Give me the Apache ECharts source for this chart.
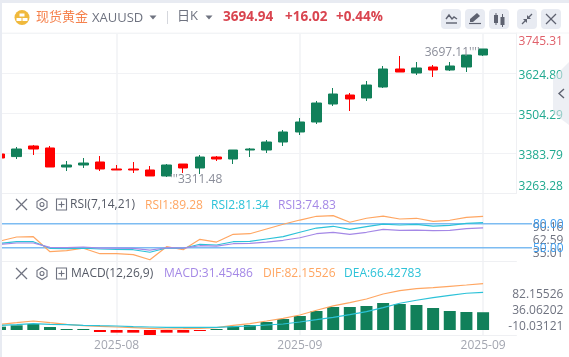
<!DOCTYPE html>
<html>
<head>
<meta charset="utf-8">
<script src="https://cdn.jsdelivr.net/npm/echarts@6/dist/echarts.min.js"></script>
<style>
  html, body { margin: 0; padding: 0; background: #fff; }
  #container { width: 569px; height: 357px; }
</style>
</head>
<body>
<div id="container"></div>
<script>
var dates = ['2025-08-06','2025-08-07','2025-08-08','2025-08-11','2025-08-12','2025-08-13','2025-08-14','2025-08-15',
  '2025-08-18','2025-08-19','2025-08-20','2025-08-21','2025-08-22','2025-08-25','2025-08-26','2025-08-27','2025-08-28','2025-08-29',
  '2025-09-01','2025-09-02','2025-09-03','2025-09-04','2025-09-05','2025-09-08','2025-09-09','2025-09-10','2025-09-11','2025-09-12','2025-09-15','2025-09-16'];
var labelIndex = [7, 18, 29];

// open, close, low, high
var candles = [
  [3380.8,3368.7,3365.7,3383.8],[3373.0,3395.8,3365.7,3401.9],[3404.9,3395.8,3377.8,3407.9],[3398.9,3341.6,3341.6,3404.9],
  [3341.6,3347.6,3329.5,3359.7],[3347.6,3353.6,3338.6,3368.7],[3356.7,3335.6,3329.5,3374.7],[3335.6,3332.6,3332.6,3347.6],
  [3335.6,3332.6,3323.5,3356.7],[3332.6,3314.5,3314.5,3344.6],[3314.5,3347.6,3311.48,3350.6],[3350.6,3338.6,3323.5,3350.6],
  [3338.6,3371.7,3320.5,3377.8],[3371.7,3365.7,3359.7,3374.7],[3365.7,3392.8,3350.6,3392.8],[3392.8,3395.8,3371.7,3398.9],
  [3392.8,3416.9,3383.8,3422.9],[3416.9,3447.1,3404.9,3453.1],[3447.1,3477.2,3438.0,3489.2],[3477.2,3534.4,3471.2,3540.5],
  [3531.4,3561.5,3525.4,3579.6],[3558.5,3546.5,3510.3,3564.5],[3549.5,3588.6,3540.5,3600.7],[3582.6,3636.9,3579.6,3645.9],
  [3636.9,3627.8,3627.8,3676.0],[3624.8,3639.9,3618.8,3657.9],[3642.9,3633.8,3612.7,3648.9],[3633.8,3645.9,3630.8,3657.9],
  [3642.9,3679.0,3627.8,3679.0],[3679.0,3697.11,3676.0,3697.11]
];
var priceTicks = [3263.28, 3383.79, 3504.29, 3624.80, 3745.31];

var rsi1 = [58.4,63.4,63.8,45,46.3,49.3,42.5,42.5,41.3,35.01,51.3,47.5,60.5,57.1,66.8,67.5,73.4,79.3,84.6,89.3,90.16,81.8,86.8,89.6,85.9,86.8,83,84.3,88,89.28];
var rsi2 = [55.5,57.5,57.5,49.3,48.8,49.6,48.4,48,47.5,44.3,49.6,49.3,54.3,53.4,57.5,58,60.9,63.8,69.3,74.6,76.8,73,76.3,79.6,78.4,79.3,77.1,78,80.5,81.34];
var rsi3 = [54.3,55.9,55.9,50.5,50,50.9,49.6,49.6,49.3,47.1,50,49.6,52.5,52.1,55,55.5,57.1,59.3,62.5,67.5,69.3,66.8,69.3,73,71.8,72.1,71.3,71.8,73.8,74.83];
var rsiTicks = [35.01, 62.59, 90.16];
var rsiGuides = [80, 50];

var dif = [10.1,12.9,15.9,12.9,10.1,7.6,6.5,5.3,4.1,3,1.8,2.3,3,4.1,8.3,11.2,15.9,20.7,26.5,34.9,42.8,48.3,54.9,63.7,69.6,73.1,74.9,77.3,79.6,82.155];
var dea = [8.3,9.4,11.2,10.1,9.4,8.3,7.6,7.1,5.8,5.3,4.8,4.8,4.8,4.8,5.8,7.1,8.8,10.6,14.2,18.2,22.5,27.1,32.4,39.5,47.3,52.6,57.2,61.4,65,66.43];
var macd = [5.9,8.3,10.6,5.3,1,1,-3.5,-4.7,-4.7,-10.03,-4.7,-4.7,-1,1,7.1,8.8,14.2,19.5,24.8,33.6,40.7,40.7,42.5,47.8,46,44.2,38.9,33.6,31.9,31.45];
var macdTicks = [-10.03121, 36.06202, 82.15526];

var green = '#11805a', red = '#ff0000';
var orange = '#ffa662', cyan = '#2cc2d8', purple = '#a488e6';
var lineGray = '#f1f2f5', labelGray = '#6f7380';
var fontName = '"Open Sans","Noto Sans CJK SC",sans-serif';

function showLabel(index) {
  return labelIndex.indexOf(index) >= 0;
}

function catAxis(gridIndex, withLabel) {
  return {
    type: 'category', gridIndex: gridIndex, boundaryGap: false,
    data: dates.concat(['', '']),
    axisLine: { show: true, onZero: false, lineStyle: { color: '#eff0f3' } },
    axisTick: { show: false },
    splitLine: { show: true, interval: showLabel, lineStyle: { color: lineGray, width: 1.5 } },
    axisLabel: {
      show: withLabel, interval: showLabel, margin: 5, color: '#a3a6b0', fontSize: 12, fontFamily: fontName,
      formatter: function (v) { return v.slice(0, 7); }
    }
  };
}

function labelAxis(gridIndex, min, max, ticks, digits) {
  return {
    type: 'value', gridIndex: gridIndex, position: 'right', min: min, max: max, scale: true,
    axisLine: { show: false }, axisTick: { show: false, customValues: ticks }, splitLine: { show: false },
    axisLabel: {
      customValues: ticks, margin: 47, align: 'right', color: labelGray, fontSize: 12, fontFamily: fontName,
      padding: [5, 0, 0, 0],
      formatter: function (v) { return v.toFixed(digits); }
    }
  };
}

function hiddenAxis(gridIndex, min, max) {
  return { type: 'value', gridIndex: gridIndex, min: min, max: max, show: false, splitLine: { show: false } };
}

function lineSeries(name, data, color, xi, yi) {
  return {
    name: name, type: 'line', data: data, xAxisIndex: xi, yAxisIndex: yi, symbol: 'none', z: 4,
    lineStyle: { color: color, width: 1.2 }
  };
}

function guideSeries(v) {
  return {
    type: 'line', xAxisIndex: 3, yAxisIndex: 5, symbol: 'none', z: 3, data: [[0, v], [1, v]],
    lineStyle: { color: '#7dbcf2', width: 1.6 },
    endLabel: { show: true, distance: 1, offset: [0, 1], color: '#3f9ef0', fontSize: 12, fontFamily: fontName, padding: [3, 0, 0, 0], formatter: v.toFixed(2) }
  };
}

// header and panel furniture
function txt(s, x, y, fill, size, weight) {
  return { type: 'text', z: 20, style: { text: s, x: x, y: y, fill: fill, textVerticalAlign: 'middle',
    font: (weight || 'normal') + ' ' + size + 'px ' + fontName } };
}
function seg(pts, color, w) {
  return { type: 'polyline', z: 20, shape: { points: pts }, style: { stroke: color, lineWidth: w || 1.2, fill: null } };
}
function box(x, y, w, h, fill, r) {
  return { type: 'rect', z: 19, shape: { x: x, y: y, width: w, height: h, r: r || 0 }, style: { fill: fill } };
}
function tri(x, y) {
  return { type: 'polygon', z: 20, shape: { points: [[x - 3.5, y - 2], [x + 3.5, y - 2], [x, y + 2]] }, style: { fill: '#6f7380' } };
}
function panelIcons(y) {
  var c = '#6f7380';
  return [
    seg([[16, y - 5.5], [27, y + 5.5]], c), seg([[27, y - 5.5], [16, y + 5.5]], c),
    { type: 'polygon', z: 20, shape: { points: [[42, y - 6], [47, y - 3], [47, y + 3], [42, y + 6], [37, y + 3], [37, y - 3]] }, style: { stroke: c, fill: null, lineWidth: 1.1 } },
    { type: 'circle', z: 20, shape: { cx: 42, cy: y, r: 2 }, style: { stroke: c, fill: null, lineWidth: 1.1 } },
    { type: 'rect', z: 20, shape: { x: 56.5, y: y - 5.5, width: 10, height: 11 }, style: { stroke: c, fill: null, lineWidth: 1.1 } },
    seg([[58.5, y], [64.5, y]], c, 1.1), seg([[61.5, y - 3], [61.5, y + 3]], c, 1.1)
  ];
}

var dark = '#5e6270';
var furniture = [
  box(0, 0, 569, 3, '#e8ebf2'), box(0, 0, 2, 357, '#e8ebf2'),
  { type: 'line', z: 18, shape: { x1: 2, y1: 33, x2: 569, y2: 33 }, style: { stroke: '#f4f5f7', lineWidth: 1 } },
  { type: 'circle', z: 19, shape: { cx: 22, cy: 17.5, r: 7.5 }, style: { fill: '#f0b93c' } },
  box(19.5, 13.5, 5, 3, '#fff'), box(16.5, 18, 5, 3, '#fff'), box(22.5, 18, 5, 3, '#fff'),
  txt('现货黄金', 36, 17, '#f5814c', 13),
  txt('XAUUSD', 92, 18.5, labelGray, 13),
  tri(153, 17.5),
  { type: 'line', z: 18, shape: { x1: 167.5, y1: 11, x2: 167.5, y2: 24 }, style: { stroke: '#d5d7dd', lineWidth: 1 } },
  txt('日K', 177, 16.5, labelGray, 13),
  tri(209, 17.5),
  txt('3694.94', 223, 17.5, '#d9444f', 13.5, 'bold'),
  txt('+16.02', 285, 17.5, '#d9444f', 13.5, 'bold'),
  txt('+0.44%', 336, 17.5, '#d9444f', 13.5, 'bold'),
  box(441, 9, 20, 20, '#e8ebf2', 4), box(465, 9, 20, 20, '#e8ebf2', 4), box(489, 9, 20, 20, '#e8ebf2', 4),
  box(517, 9, 20, 20, '#e8ebf2', 4), box(541, 9, 20, 20, '#e8ebf2', 4),
  seg([[446, 19], [449, 15], [452, 19], [454, 17], [457, 19]], dark, 1.4), seg([[446, 23], [457, 23]], dark, 1.4),
  seg([[469, 23.5], [481, 23.5]], dark, 1.2),
  { type: 'polygon', z: 20, shape: { points: [[470, 22], [470, 19], [477, 13], [480, 16], [473, 22]] }, style: { fill: dark } },
  box(494, 15, 4, 8, dark), seg([[496, 13], [496, 25]], dark, 1), box(500.5, 17, 4, 8, dark), seg([[502.5, 14], [502.5, 27]], dark, 1),
  seg([[522, 24], [526, 20]], dark, 1.3), seg([[528, 18], [532, 14]], dark, 1.3),
  { type: 'polygon', z: 20, shape: { points: [[523, 19], [527, 19], [527, 23]] }, style: { fill: dark } },
  { type: 'polygon', z: 20, shape: { points: [[527, 19], [531, 19], [527, 15]] }, style: { fill: dark } },
  seg([[546, 14], [556, 24]], dark, 1.2), seg([[556, 14], [546, 24]], dark, 1.2),
  { type: 'polygon', z: 1, shape: { points: [[569, 62], [553, 78], [553, 113], [569, 125]] }, style: { fill: 'rgba(225,228,236,0.6)' } },
  seg([[564, 89], [559, 93.5], [564, 98]], dark, 1.4),
  txt('RSI(7,14,21)', 70, 205, '#555a66', 12),
  txt('RSI1:89.28', 145, 205.5, orange, 12),
  txt('RSI2:81.34', 211, 205.5, cyan, 12),
  txt('RSI3:74.83', 278, 205.5, purple, 12),
  txt('MACD(12,26,9)', 71, 274, '#555a66', 12),
  txt('MACD:31.45486', 164, 274, purple, 12),
  txt('DIF:82.15526', 263, 274, orange, 12),
  txt('DEA:66.42783', 344, 274, cyan, 12)
].concat(panelIcons(204.5), panelIcons(273.5));

var myChart = echarts.init(document.getElementById('container'));
var option = {
  animation: false,
  backgroundColor: '#fff',
  textStyle: { fontFamily: fontName },
  grid: [
    { left: -2, right: 52.6, top: 33, height: 160 },
    { left: -2, right: 52.6, top: 193, height: 68 },
    { left: -2, right: 52.6, top: 261, height: 74 },
    { left: 2, right: 37, top: 193, height: 68 }
  ],
  xAxis: [
    catAxis(0, false), catAxis(1, false), catAxis(2, true),
    { type: 'value', gridIndex: 3, min: 0, max: 1, show: false, splitLine: { show: false } }
  ],
  yAxis: [
    {
      type: 'value', gridIndex: 0, position: 'right', offset: -0.5, min: priceTicks[0], max: priceTicks[4], scale: true,
      axisLine: { show: true, lineStyle: { color: '#eff0f3' } },
      axisTick: { show: false, customValues: priceTicks },
      splitLine: { show: true, lineStyle: { color: lineGray, width: 1.2 } },
      axisLabel: {
        customValues: priceTicks, margin: 47, align: 'right', fontSize: 12, fontFamily: fontName,
        verticalAlignMaxLabel: 'top', verticalAlignMinLabel: 'bottom',
        formatter: function (v) {
          var s = v.toFixed(2);
          if (v === priceTicks[4]) return '{top|' + s + '}';
          if (v === priceTicks[0]) return '{low|' + s + '}';
          return '{mid|' + s + '}';
        },
        rich: {
          top: { color: '#e0606a', fontSize: 12, fontFamily: fontName, padding: [3, 0, 0, 0] },
          mid: { color: '#1fa98f', fontSize: 12, fontFamily: fontName, padding: [6, 0, 0, 0] },
          low: { color: '#1fa98f', fontSize: 12, fontFamily: fontName }
        }
      }
    },
    hiddenAxis(1, 33.4, 118.4),
    labelAxis(1, 20.16, 164.4, rsiTicks, 2),
    hiddenAxis(2, -8.85, 122.1),
    labelAxis(2, -34.9, 181.66, macdTicks, 5),
    hiddenAxis(3, 33.4, 118.4)
  ],
  series: [
    {
      type: 'candlestick', data: candles, xAxisIndex: 0, yAxisIndex: 0, barWidth: 10,
      itemStyle: { color: green, color0: red, borderColor: green, borderColor0: red, borderWidth: 1 },
      markPoint: {
        symbol: 'circle', symbolSize: 1, silent: true,
        itemStyle: { color: 'rgba(0,0,0,0)' },
        label: { color: '#8a8d99', fontSize: 12, fontFamily: fontName },
        data: [
          { coord: [29, 3697.11], value: 3697.11, label: { show: true, position: 'left', distance: 0, offset: [-3, 4], formatter: "{c}''''" } },
          { coord: [10, 3311.48], value: 3311.48, label: { show: true, position: 'right', distance: 0, offset: [3, 3], formatter: "'''{c}" } }
        ]
      }
    },
    lineSeries('RSI1', rsi1, orange, 1, 1),
    lineSeries('RSI2', rsi2, cyan, 1, 1),
    lineSeries('RSI3', rsi3, purple, 1, 1),
    guideSeries(rsiGuides[0]),
    guideSeries(rsiGuides[1]),
    {
      name: 'MACD', type: 'bar', data: macd, xAxisIndex: 2, yAxisIndex: 3, barWidth: 12, barMinHeight: 1,
      itemStyle: { color: function (p) { return p.value < 0 ? red : green; } }
    },
    lineSeries('DIF', dif, orange, 2, 3),
    lineSeries('DEA', dea, cyan, 2, 3)
  ],
  graphic: furniture
};
myChart.setOption(option);
</script>
</body>
</html>
